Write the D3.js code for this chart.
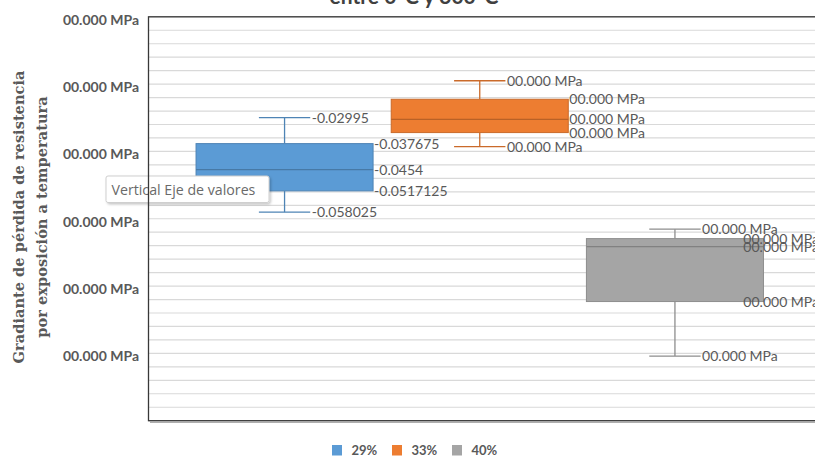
<!DOCTYPE html>
<html>
<head>
<meta charset="utf-8">
<script src="https://cdn.jsdelivr.net/npm/d3@7"></script>
<style>
  html, body { margin: 0; padding: 0; background: #ffffff; }
  svg { display: block; }
</style>
</head>
<body>
<svg id="chart" width="815" height="457"></svg>
<script>
// ---- data ----
const categories = ["29%", "33%", "40%"];
const colors = ["#5B9BD5", "#ED7D31", "#A5A5A5"];
const whiskerMax = [-0.02995, -0.0190, -0.0631];
const q3Values = [-0.037675, -0.0245, -0.0659];
const medianValues = [-0.0454, -0.0305, -0.0683];
const q1Values = [-0.0517125, -0.0344, -0.0846];
const whiskerMin = [-0.058025, -0.0386, -0.1008];
const labelTexts = [
  ["-0.02995", "-0.037675", "-0.0454", "-0.0517125", "-0.058025"],
  ["00.000 MPa", "00.000 MPa", "00.000 MPa", "00.000 MPa", "00.000 MPa"],
  ["00.000 MPa", "00.000 MPa", "00.000 MPa", "00.000 MPa", "00.000 MPa"]
];
const yTickValues = [0, -0.02, -0.04, -0.06, -0.08, -0.10];
const yTickLabel = "00.000 MPa";
const yDomain = [-0.12, 0];
const minorStep = 0.004;
const titleText = "entre 0°C y 300°C";
const yTitleLines = ["Gradiante de pérdida de resistencia", "por exposición a temperatura"];
const tooltipText = "Vertical Eje de valores";

// ---- layout ----
const plotLeft = 149, plotTop = 16.8, plotBottom = 420.7, plotFrameRight = 818;
const bandRight = 810.5, chartRight = 819;
const svg = d3.select("#chart");

const y = d3.scaleLinear().domain(yDomain).range([plotBottom, plotTop]);
const x = d3.scaleBand().domain(categories).range([plotLeft, bandRight])
  .paddingInner(0.093).paddingOuter(0.241);

// title (mostly clipped at top)
svg.append("text")
  .attr("x", 414).attr("y", 3.5)
  .attr("text-anchor", "middle")
  .attr("font-family", "Lato, 'Open Sans', sans-serif")
  .attr("font-weight", "bold").attr("font-size", 21)
  .attr("fill", "#404040")
  .text(titleText);

// gridlines
const gridVals = d3.range(0, 31).map(i => yDomain[0] + i * minorStep);
svg.append("g").selectAll("line").data(gridVals).join("line")
  .attr("x1", plotLeft).attr("x2", plotFrameRight)
  .attr("y1", d => y(d)).attr("y2", d => y(d))
  .attr("stroke", "#d9d9d9").attr("stroke-width", 1.2);

// y axis labels
const yAxis = d3.axisLeft(y).tickValues(yTickValues).tickFormat(() => yTickLabel)
  .tickSize(0).tickPadding(10);
const gy = svg.append("g").attr("transform", `translate(${plotLeft},0)`).call(yAxis);
gy.select(".domain").remove();
gy.selectAll("text")
  .attr("font-family", "Lato, sans-serif").attr("font-weight", "bold")
  .attr("font-size", 14).attr("fill", "#595959")
  .attr("dy", "0.52em");

// y axis title
const yTitle = svg.append("g").attr("transform", "translate(0,217) rotate(-90)");
yTitle.selectAll("text").data(yTitleLines).join("text")
  .attr("x", 0).attr("y", (d, i) => 23.5 + i * 23.5)
  .attr("text-anchor", "middle")
  .attr("font-family", "'DejaVu Serif', serif").attr("font-weight", "bold")
  .attr("font-size", 14.6).attr("fill", "#595959")
  .text(d => d);

// boxes
const boxes = svg.append("g");
const labelG = svg.append("g");
categories.forEach((cat, i) => {
  const c = colors[i];
  const stroke = d3.color(c).darker(0.45).formatHex();
  const medStroke = d3.color(c).darker(0.7).formatHex();
  const bx = x(cat), bw = x.bandwidth(), cx = bx + bw / 2;
  const capHalf = bw * 0.145;
  const g = boxes.append("g");
  // whiskers
  g.append("line").attr("x1", cx).attr("x2", cx)
    .attr("y1", y(whiskerMax[i])).attr("y2", y(q3Values[i]))
    .attr("stroke", stroke).attr("stroke-width", 1.3);
  g.append("line").attr("x1", cx).attr("x2", cx)
    .attr("y1", y(q1Values[i])).attr("y2", y(whiskerMin[i]))
    .attr("stroke", stroke).attr("stroke-width", 1.3);
  [whiskerMax[i], whiskerMin[i]].forEach(v => {
    g.append("line").attr("x1", cx - capHalf).attr("x2", cx + capHalf)
      .attr("y1", y(v)).attr("y2", y(v))
      .attr("stroke", stroke).attr("stroke-width", 1.3);
  });
  // box
  g.append("rect").attr("x", bx).attr("width", bw)
    .attr("y", y(q3Values[i])).attr("height", y(q1Values[i]) - y(q3Values[i]))
    .attr("fill", c).attr("stroke", stroke).attr("stroke-width", 1);
  g.append("line").attr("x1", bx).attr("x2", bx + bw)
    .attr("y1", y(medianValues[i])).attr("y2", y(medianValues[i]))
    .attr("stroke", medStroke).attr("stroke-width", 1.3);

  // labels
  const vals = [whiskerMax[i], q3Values[i], medianValues[i], q1Values[i], whiskerMin[i]];
  vals.forEach((v, k) => {
    const isWhisker = (k === 0 || k === 4);
    const t = labelG.append("text")
      .attr("y", y(v)).attr("dy", "0.36em")
      .attr("font-family", "Lato, sans-serif").attr("font-size", 14)
      .attr("fill", "#595959")
      .text(labelTexts[i][k]);
    const w = t.node().getComputedTextLength();
    let lx = isWhisker ? cx + capHalf + 1.5 : bx + bw + 1;
    lx = Math.min(lx, chartRight - w);
    t.attr("x", lx);
  });
});

// tooltip
const tip = svg.append("g");
const defs = svg.append("defs");
const f = defs.append("filter").attr("id", "sh").attr("x", "-10%").attr("y", "-30%").attr("width", "130%").attr("height", "170%");
f.append("feDropShadow").attr("dx", 1.5).attr("dy", 1.5).attr("stdDeviation", 1.2).attr("flood-color", "#000").attr("flood-opacity", 0.22);
tip.append("rect").attr("x", 106).attr("y", 176).attr("width", 163).attr("height", 26.5)
  .attr("rx", 2).attr("fill", "#ffffff").attr("stroke", "#cfcfcf").attr("stroke-width", 1)
  .attr("filter", "url(#sh)");
tip.append("text").attr("x", 111.5).attr("y", 189.5).attr("dy", "0.36em")
  .attr("font-family", "'Open Sans', sans-serif").attr("font-size", 14.2)
  .attr("fill", "#6a6a6a").text(tooltipText);

// plot frame
svg.append("line").attr("x1", plotLeft + 1).attr("x2", plotFrameRight)
  .attr("y1", plotBottom + 1.6).attr("y2", plotBottom + 1.6)
  .attr("stroke", "#9a9a9a").attr("stroke-width", 1);
svg.append("rect").attr("x", plotLeft - 0.5).attr("y", plotTop)
  .attr("width", plotFrameRight - plotLeft + 0.5).attr("height", plotBottom - plotTop)
  .attr("fill", "none").attr("stroke", "#383838").attr("stroke-width", 1.3);

// legend
const legend = svg.append("g").attr("transform", "translate(332,445)");
const li = legend.selectAll("g").data(categories).join("g")
  .attr("transform", (d, i) => `translate(${i * 60},0)`);
li.append("rect").attr("width", 10).attr("height", 10.5)
  .attr("fill", (d, i) => colors[i]);
li.append("text").attr("x", 19.5).attr("y", 5.5).attr("dy", "0.36em")
  .attr("font-family", "Lato, sans-serif").attr("font-weight", "bold")
  .attr("font-size", 13).attr("fill", "#595959").text(d => d);
</script>
</body>
</html>
